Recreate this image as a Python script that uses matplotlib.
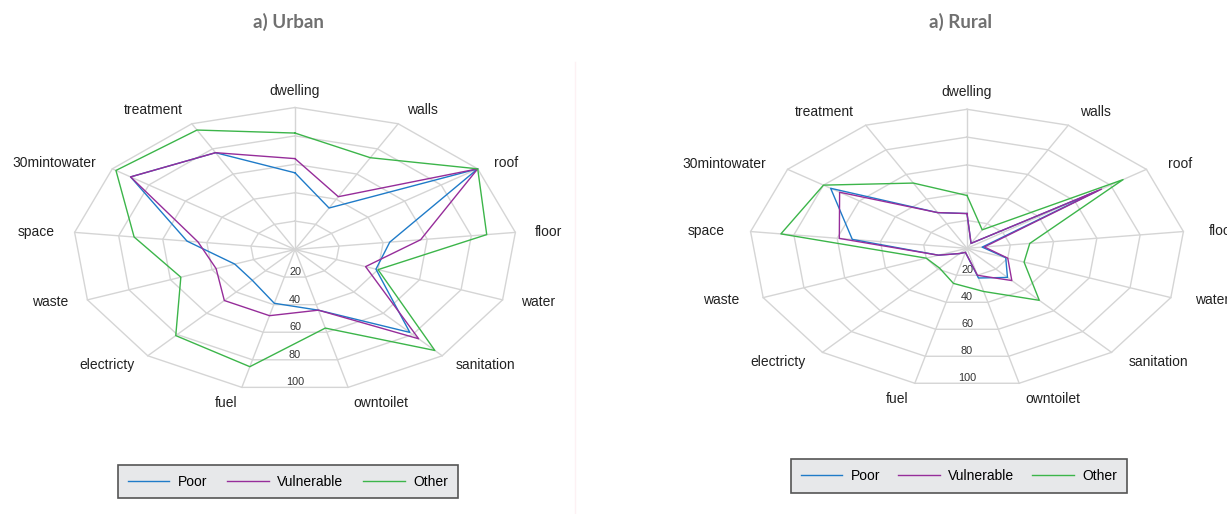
import numpy as np
import matplotlib
matplotlib.use('Agg')
import matplotlib.pyplot as plt
from matplotlib.lines import Line2D

plt.rcParams['font.family'] = ['Liberation Sans', 'DejaVu Sans']

# categories / ticks
categories = ['dwelling', 'walls', 'roof', 'floor', 'water', 'sanitation', 'owntoilet',
              'fuel', 'electricty', 'waste', 'space', '30mintowater', 'treatment']
rings = [20, 40, 60, 80, 100]
series_names = ['Poor', 'Vulnerable', 'Other']

# Urban
urban_poor = [54, 33, 100, 43, 39, 78, 44, 39, 29, 29, 49, 90, 77]
urban_vuln = [64, 42, 100, 57, 34, 84, 44, 48, 48, 38, 44, 90, 77]
urban_other = [82, 73, 100, 87, 40, 95, 57, 85, 81, 55, 73, 98, 95]

# Rural
rural_poor = [25, 4, 73, 7, 19, 28, 22, 3, 5, 14, 53, 76, 29]
rural_vuln = [25, 4, 75, 8, 20, 31, 20, 3, 5, 14, 59, 71, 29]
rural_other = [38, 15, 87, 29, 28, 50, 32, 26, 19, 20, 86, 80, 53]

colors = ['#1f7bc8', '#962d9a', '#3cb54a']
grid_col = '#d5d5d5'

W, H = 1227, 514
fig = plt.figure(figsize=(W / 100, H / 100), dpi=100)

n = len(categories)
theta = np.pi / 2 - np.arange(n) * 2 * np.pi / n


def radar(cx, cy, rx, ry, data, title, tx, lab_dx=20):
    # axes placed so that value 100 -> rx / ry pixels
    lim = 125
    w = 2 * lim * rx / 100
    h = 2 * lim * ry / 100
    ax = fig.add_axes([(cx - w / 2) / W, (H - cy - h / 2) / H, w / W, h / H])
    ax.set_xlim(-lim, lim)
    ax.set_ylim(-lim, lim)
    ax.axis('off')

    # grid polygons and spokes
    for r in rings:
        xs = np.append(r * np.cos(theta), r * np.cos(theta[0]))
        ys = np.append(r * np.sin(theta), r * np.sin(theta[0]))
        ax.plot(xs, ys, color=grid_col, lw=1.0, zorder=1, clip_on=False)
    for t in theta:
        ax.plot([0, 100 * np.cos(t)], [0, 100 * np.sin(t)], color=grid_col, lw=1.0,
                zorder=1, clip_on=False)

    # radial tick labels along the bottom
    for r in rings:
        ax.annotate(str(r), (0, -r * np.cos(np.pi / n)), xytext=(0, 5),
                    textcoords='offset pixels', ha='center', va='center',
                    fontsize=7.8, color='#333333')

    # category labels
    for t, lab in zip(theta, categories):
        c, s = np.cos(t), np.sin(t)
        ha = 'left' if c > 0.05 else ('right' if c < -0.05 else 'center')
        ax.annotate(lab, (100 * c, 100 * s), xytext=(lab_dx * c, 17 * s * abs(s)),
                    textcoords='offset pixels', ha=ha, va='center',
                    fontsize=10, color='#222222')

    handles = []
    for vals, col, name in zip(data, colors, series_names):
        v = np.array(vals + vals[:1], dtype=float)
        tt = np.append(theta, theta[0])
        ln, = ax.plot(v * np.cos(tt), v * np.sin(tt), color=col, lw=1.0, zorder=3,
                      label=name, clip_on=False)
        handles.append(ln)

    fig.text(tx / W, 1 - 22 / H, title, ha='center', va='center', fontsize=13.5,
             fontweight='bold', color='#707070', family=['Lato', 'DejaVu Sans'])
    return handles


h1 = radar(295, 249.5, 222, 142, [urban_poor, urban_vuln, urban_other], 'a) Urban', 288)
h2 = radar(967, 248.3, 218, 139, [rural_poor, rural_vuln, rural_other], 'a) Rural', 960,
           lab_dx=26)


def add_legend(handles, x0, y0, x1, y1):
    leg = fig.legend(handles=handles, labels=series_names, ncol=3, loc='center',
                     bbox_to_anchor=(x0 / W, 1 - y1 / H, (x1 - x0) / W, (y1 - y0) / H),
                     mode='expand', fontsize=10, handlelength=3.0, frameon=True,
                     fancybox=False, facecolor='#e7e8ea', edgecolor='#555555',
                     framealpha=1, borderpad=0.7, handletextpad=0.6)
    leg.get_frame().set_linewidth(1.2)
    return leg


add_legend(h1, 111, 463, 465, 500)
add_legend(h2, 784, 459, 1134, 493)

# faint divider between panels
fig.add_artist(Line2D([575 / W, 575 / W], [0, 1 - 62 / H], color='#fdf1f4', lw=1.0,
                      transform=fig.transFigure))

fig.savefig('out.png', dpi=100, facecolor='white')
